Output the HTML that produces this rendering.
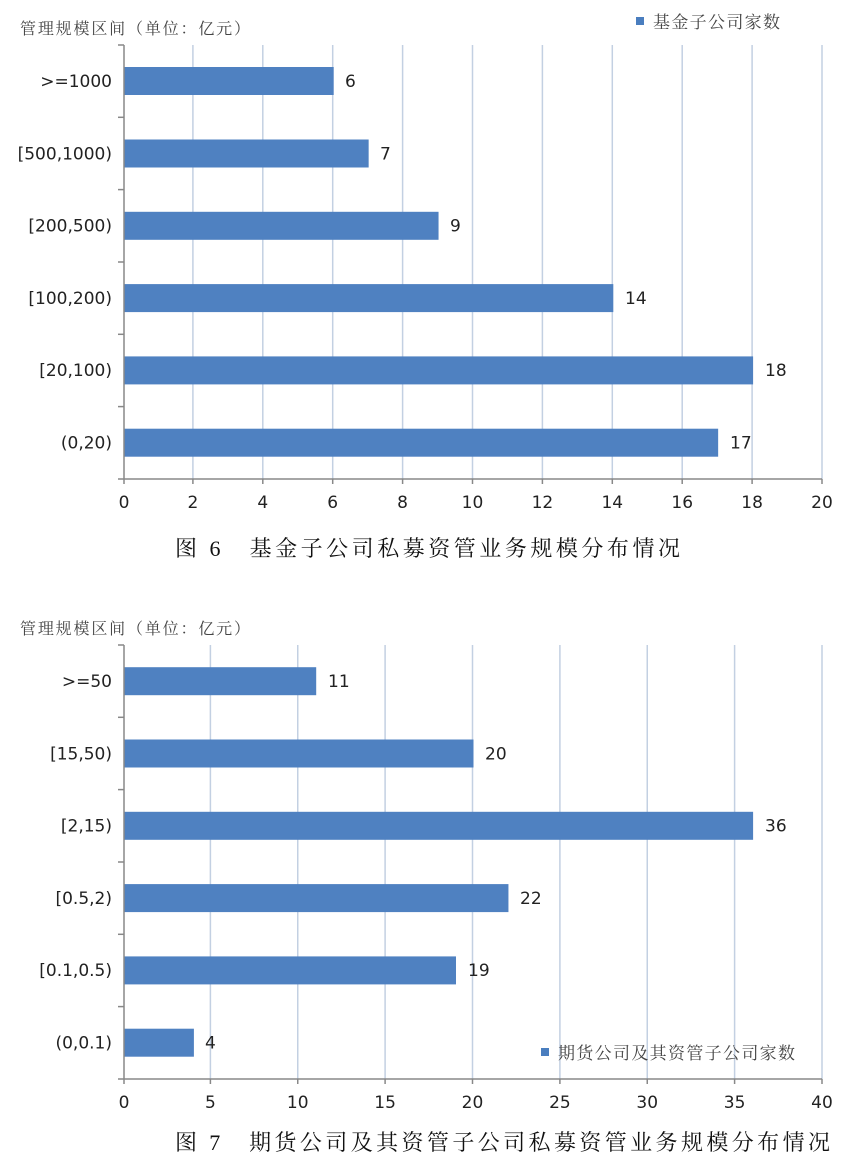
<!DOCTYPE html>
<html><head><meta charset="utf-8"><style>
html,body{margin:0;padding:0;background:#fff;}
svg{display:block;}
.s{font-family:"Liberation Serif","Noto Serif CJK SC",serif;fill:#444;}
.n{font-family:"DejaVu Sans","Liberation Sans",sans-serif;fill:#222;font-size:17px;}
.c{font-family:"Liberation Serif","Noto Serif CJK SC",serif;fill:#111;font-size:22px;}
</style></head><body>
<svg width="850" height="1172" viewBox="0 0 850 1172" xmlns="http://www.w3.org/2000/svg">
<!-- Chart 1 -->
<g stroke="#c3d0e2" stroke-width="1.5">
<line x1="192.9" y1="45" x2="192.9" y2="479"/><line x1="262.8" y1="45" x2="262.8" y2="479"/>
<line x1="332.7" y1="45" x2="332.7" y2="479"/><line x1="402.6" y1="45" x2="402.6" y2="479"/>
<line x1="472.5" y1="45" x2="472.5" y2="479"/><line x1="542.4" y1="45" x2="542.4" y2="479"/>
<line x1="612.3" y1="45" x2="612.3" y2="479"/><line x1="682.2" y1="45" x2="682.2" y2="479"/>
<line x1="752.1" y1="45" x2="752.1" y2="479"/><line x1="822" y1="45" x2="822" y2="479"/>
</g>
<text class="s" x="20" y="34" font-size="16" textLength="230">管理规模区间（单位：亿元）</text>
<rect x="636" y="17" width="8" height="8" fill="#4a7ebf"/>
<text class="s" x="653" y="28" font-size="17" textLength="127">基金子公司家数</text>
<g fill="#4f81c1">
<rect x="124" y="67" width="209.7" height="28"/>
<rect x="124" y="139.5" width="244.65" height="28"/>
<rect x="124" y="211.8" width="314.55" height="28"/>
<rect x="124" y="284.1" width="489.3" height="28"/>
<rect x="124" y="356.4" width="629.1" height="28"/>
<rect x="124" y="428.7" width="594.15" height="28"/>
</g>
<g stroke="#888" stroke-width="1.5" fill="none">
<line x1="124" y1="45" x2="124" y2="479"/><line x1="118" y1="479" x2="822" y2="479"/>
<line x1="118" y1="45" x2="124" y2="45"/><line x1="118" y1="117.3" x2="124" y2="117.3"/>
<line x1="118" y1="189.6" x2="124" y2="189.6"/><line x1="118" y1="262" x2="124" y2="262"/>
<line x1="118" y1="334.3" x2="124" y2="334.3"/><line x1="118" y1="406.6" x2="124" y2="406.6"/>
<line x1="192.9" y1="479" x2="192.9" y2="484"/><line x1="262.8" y1="479" x2="262.8" y2="484"/>
<line x1="332.7" y1="479" x2="332.7" y2="484"/><line x1="402.6" y1="479" x2="402.6" y2="484"/>
<line x1="472.5" y1="479" x2="472.5" y2="484"/><line x1="542.4" y1="479" x2="542.4" y2="484"/>
<line x1="612.3" y1="479" x2="612.3" y2="484"/><line x1="682.2" y1="479" x2="682.2" y2="484"/>
<line x1="752.1" y1="479" x2="752.1" y2="484"/><line x1="822" y1="479" x2="822" y2="484"/>
<line x1="124" y1="479" x2="124" y2="484"/>
</g>
<g class="n" text-anchor="end">
<text x="112" y="87">&gt;=1000</text><text x="112" y="159.5">[500,1000)</text>
<text x="112" y="231.5">[200,500)</text><text x="112" y="304">[100,200)</text>
<text x="112" y="376">[20,100)</text><text x="112" y="448.5">(0,20)</text>
</g>
<g class="n">
<text x="345" y="87">6</text><text x="380" y="159.5">7</text><text x="450" y="231.5">9</text>
<text x="625" y="304">14</text><text x="765" y="376">18</text><text x="730" y="448.5">17</text>
</g>
<g class="n" text-anchor="middle">
<text x="124" y="508">0</text><text x="192.9" y="508">2</text><text x="262.8" y="508">4</text>
<text x="332.7" y="508">6</text><text x="402.6" y="508">8</text><text x="472.5" y="508">10</text>
<text x="542.4" y="508">12</text><text x="612.3" y="508">14</text><text x="682.2" y="508">16</text>
<text x="752.1" y="508">18</text><text x="822" y="508">20</text>
</g>
<text class="c" x="175" y="556" textLength="505">图 6　基金子公司私募资管业务规模分布情况</text>

<!-- Chart 2 -->
<g stroke="#c3d0e2" stroke-width="1.5">
<line x1="210.4" y1="645" x2="210.4" y2="1079"/><line x1="297.75" y1="645" x2="297.75" y2="1079"/>
<line x1="385.1" y1="645" x2="385.1" y2="1079"/><line x1="472.5" y1="645" x2="472.5" y2="1079"/>
<line x1="559.9" y1="645" x2="559.9" y2="1079"/><line x1="647.25" y1="645" x2="647.25" y2="1079"/>
<line x1="734.6" y1="645" x2="734.6" y2="1079"/><line x1="822" y1="645" x2="822" y2="1079"/>
</g>
<text class="s" x="20" y="634" font-size="16" textLength="230">管理规模区间（单位：亿元）</text>
<g fill="#4f81c1">
<rect x="124" y="667.2" width="192.2" height="28"/>
<rect x="124" y="739.5" width="349.5" height="28"/>
<rect x="124" y="811.8" width="629.1" height="28"/>
<rect x="124" y="884.1" width="384.45" height="28"/>
<rect x="124" y="956.4" width="332" height="28"/>
<rect x="124" y="1028.7" width="69.9" height="28"/>
</g>
<rect x="541" y="1048" width="8" height="8" fill="#4a7ebf"/>
<text class="s" x="558" y="1059" font-size="17" textLength="237">期货公司及其资管子公司家数</text>
<g stroke="#888" stroke-width="1.5" fill="none">
<line x1="124" y1="645" x2="124" y2="1079"/><line x1="118" y1="1079" x2="822" y2="1079"/>
<line x1="118" y1="645" x2="124" y2="645"/><line x1="118" y1="717.3" x2="124" y2="717.3"/>
<line x1="118" y1="789.6" x2="124" y2="789.6"/><line x1="118" y1="862" x2="124" y2="862"/>
<line x1="118" y1="934.3" x2="124" y2="934.3"/><line x1="118" y1="1006.6" x2="124" y2="1006.6"/>
<line x1="124" y1="1079" x2="124" y2="1084"/>
<line x1="210.4" y1="1079" x2="210.4" y2="1084"/><line x1="297.75" y1="1079" x2="297.75" y2="1084"/>
<line x1="385.1" y1="1079" x2="385.1" y2="1084"/><line x1="472.5" y1="1079" x2="472.5" y2="1084"/>
<line x1="559.9" y1="1079" x2="559.9" y2="1084"/><line x1="647.25" y1="1079" x2="647.25" y2="1084"/>
<line x1="734.6" y1="1079" x2="734.6" y2="1084"/><line x1="822" y1="1079" x2="822" y2="1084"/>
</g>
<g class="n" text-anchor="end">
<text x="112" y="687">&gt;=50</text><text x="112" y="759.5">[15,50)</text>
<text x="112" y="831.5">[2,15)</text><text x="112" y="904">[0.5,2)</text>
<text x="112" y="976">[0.1,0.5)</text><text x="112" y="1048.5">(0,0.1)</text>
</g>
<g class="n">
<text x="328" y="687">11</text><text x="485" y="759.5">20</text><text x="765" y="831.5">36</text>
<text x="520" y="904">22</text><text x="468" y="976">19</text><text x="205" y="1048.5">4</text>
</g>
<g class="n" text-anchor="middle">
<text x="124" y="1108">0</text><text x="210.4" y="1108">5</text><text x="297.75" y="1108">10</text>
<text x="385.1" y="1108">15</text><text x="472.5" y="1108">20</text><text x="559.9" y="1108">25</text>
<text x="647.25" y="1108">30</text><text x="734.6" y="1108">35</text><text x="822" y="1108">40</text>
</g>
<text class="c" x="175" y="1150" textLength="655">图 7　期货公司及其资管子公司私募资管业务规模分布情况</text>
</svg>
</body></html>
